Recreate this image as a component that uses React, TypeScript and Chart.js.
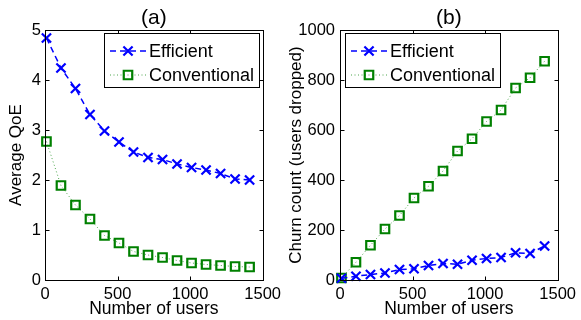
import React, { useEffect, useRef } from 'react';
import { Chart, registerables } from 'chart.js';

Chart.register(...registerables);

// ---- data ----
const users = [10, 110, 210, 310, 410, 510, 610, 710, 810, 910, 1010, 1110, 1210, 1310, 1410];
const qoeEfficient = [4.84, 4.24, 3.83, 3.31, 2.98, 2.76, 2.56, 2.45, 2.41, 2.32, 2.25, 2.20, 2.13, 2.02, 2.00];
const qoeConventional = [2.77, 1.89, 1.50, 1.22, 0.89, 0.74, 0.57, 0.50, 0.45, 0.39, 0.34, 0.31, 0.29, 0.27, 0.26];
const churnEfficient = [7, 15, 22, 28, 42, 45, 58, 66, 63, 79, 86, 90, 109, 106, 136];
const churnConventional = [8, 71, 139, 204, 258, 328, 375, 436, 516, 565, 634, 680, 768, 809, 875];
const xTicks = [0, 500, 1000, 1500];
const qoeTicks = [0, 1, 2, 3, 4, 5];
const churnTicks = [0, 200, 400, 600, 800, 1000];
const seriesNames = ['Efficient', 'Conventional'];

const FONT = "'Liberation Sans', Arial, Helvetica, sans-serif";
const BLUE = '#0000ff';
const GREEN = '#008000';

function drawFrame(chart: any) {
  const { ctx, chartArea: a, scales } = chart;
  ctx.save();
  ctx.globalAlpha = 1;
  ctx.setLineDash([]);
  ctx.strokeStyle = '#000000';
  ctx.lineWidth = 1;
  const L = Math.round(a.left) + 0.5, R = Math.round(a.right) + 0.5;
  const T = Math.round(a.top) + 0.5, B = Math.round(a.bottom) + 0.5;
  ctx.strokeRect(L, T, R - L, B - T);
  const tl = 4;
  ctx.beginPath();
  scales.x.ticks.forEach((t: any) => {
    const px = Math.round(scales.x.getPixelForValue(t.value)) + 0.5;
    ctx.moveTo(px, B); ctx.lineTo(px, B - tl);
    ctx.moveTo(px, T); ctx.lineTo(px, T + tl);
  });
  scales.y.ticks.forEach((t: any) => {
    const py = Math.round(scales.y.getPixelForValue(t.value)) + 0.5;
    ctx.moveTo(L, py); ctx.lineTo(L + tl, py);
    ctx.moveTo(R, py); ctx.lineTo(R - tl, py);
  });
  ctx.stroke();
  ctx.restore();
}

function drawMarker(ctx: CanvasRenderingContext2D, style: string, x: number, y: number, r: number, color: string, lw: number) {
  ctx.save();
  ctx.setLineDash([]);
  ctx.strokeStyle = color;
  ctx.lineWidth = lw;
  const h = r * Math.SQRT1_2;
  ctx.beginPath();
  if (style === 'crossRot') {
    ctx.moveTo(x - h, y - h); ctx.lineTo(x + h, y + h);
    ctx.moveTo(x - h, y + h); ctx.lineTo(x + h, y - h);
  } else {
    ctx.rect(x - h, y - h, 2 * h, 2 * h);
  }
  ctx.stroke();
  ctx.restore();
}

function drawLegend(chart: any, align: string) {
  const { ctx, chartArea: a } = chart;
  const w = 155, h = 54;
  const bx = align === 'right' ? Math.round(a.right - 4 - w) : Math.round(a.left + 5);
  const by = Math.round(a.top + 3);
  ctx.save();
  ctx.fillStyle = '#fff';
  ctx.fillRect(bx, by, w, h);
  ctx.strokeStyle = '#000';
  ctx.lineWidth = 1;
  ctx.setLineDash([]);
  ctx.strokeRect(bx + 0.5, by + 0.5, w, h);
  chart.data.datasets.forEach((ds: any, i: number) => {
    const cy = by + 18 + i * 24;
    ctx.save();
    ctx.strokeStyle = ds.borderColor;
    ctx.lineWidth = ds.borderWidth;
    ctx.setLineDash(ds.borderDash || []);
    ctx.beginPath();
    ctx.moveTo(bx + 6, cy);
    ctx.lineTo(bx + 42, cy);
    ctx.stroke();
    ctx.restore();
    drawMarker(ctx, ds.pointStyle, bx + 24, cy, ds.pointRadius, ds.pointBorderColor, ds.pointBorderWidth);
    ctx.fillStyle = '#000';
    ctx.font = `18px ${FONT}`;
    ctx.textAlign = 'left';
    ctx.textBaseline = 'middle';
    ctx.fillText(ds.label, bx + 45, cy + 1);
  });
  ctx.restore();
}

function drawTitle(chart: any, text: string) {
  const { ctx, chartArea: a } = chart;
  ctx.save();
  ctx.font = `21px ${FONT}`;
  ctx.fillStyle = '#000';
  ctx.textAlign = 'center';
  ctx.textBaseline = 'middle';
  ctx.fillText(text, (a.left + a.right) / 2, 18);
  ctx.restore();
}

function makeDatasets(eff: number[], conv: number[]) {
  return [
    {
      label: seriesNames[0],
      data: users.map((u, i) => ({ x: u, y: eff[i] })),
      borderColor: BLUE,
      borderWidth: 1.5,
      borderDash: [6, 4],
      pointStyle: 'crossRot',
      pointRadius: 6.5,
      pointBorderWidth: 2.2,
      pointBorderColor: BLUE,
      pointBackgroundColor: 'rgba(0,0,0,0)',
      tension: 0,
      clip: false,
    },
    {
      label: seriesNames[1],
      data: users.map((u, i) => ({ x: u, y: conv[i] })),
      borderColor: 'rgba(0,128,0,0.7)',
      borderWidth: 1,
      borderDash: [1, 2.5],
      pointStyle: 'rect',
      pointRadius: 6,
      pointBorderWidth: 2.2,
      pointBorderColor: GREEN,
      pointBackgroundColor: 'rgba(0,0,0,0)',
      tension: 0,
      clip: false,
    },
  ];
}

function makeConfig(opts: {
  eff: number[]; conv: number[]; yTicks: number[]; yTitle: string; title: string;
  yWidth: number; rightPad: number; yTitlePad: number; yTickPad: number; legendAlign: string;
}) {
  const overlay = {
    id: 'overlay',
    afterDatasetsDraw(chart: any) { drawFrame(chart); drawLegend(chart, opts.legendAlign); },
    afterDraw(chart: any) { drawTitle(chart, opts.title); },
  };
  return {
    type: 'line' as const,
    data: { datasets: makeDatasets(opts.eff, opts.conv) },
    plugins: [overlay],
    options: {
      responsive: false,
      animation: false,
      events: [],
      layout: { padding: { left: 0, right: opts.rightPad, top: 30, bottom: 0 } },
      plugins: {
        legend: { display: false },
        tooltip: { enabled: false },
        title: { display: false },
      },
      scales: {
        x: {
          type: 'linear',
          min: xTicks[0],
          max: xTicks[xTicks.length - 1],
          afterBuildTicks: (s: any) => { s.ticks = xTicks.map((v) => ({ value: v })); },
          afterFit: (s: any) => { s.height = 40; },
          grid: { display: false, drawTicks: false },
          border: { display: false },
          ticks: { color: '#000', font: { family: FONT, size: 16.5 }, padding: 5, maxRotation: 0, autoSkip: false, callback: (v: any) => String(v) },
          title: { display: true, text: 'Number of users', color: '#000', font: { family: FONT, size: 17.5 }, padding: { top: 0, bottom: 0 } },
        },
        y: {
          type: 'linear',
          min: opts.yTicks[0],
          max: opts.yTicks[opts.yTicks.length - 1],
          afterBuildTicks: (s: any) => { s.ticks = opts.yTicks.map((v) => ({ value: v })); },
          afterFit: (s: any) => { s.width = opts.yWidth; },
          grid: { display: false, drawTicks: false },
          border: { display: false },
          ticks: { color: '#000', font: { family: FONT, size: 16.5 }, padding: opts.yTickPad, autoSkip: false, callback: (v: any) => String(v) },
          title: { display: true, text: opts.yTitle, color: '#000', font: { family: FONT, size: 17 }, padding: { top: opts.yTitlePad, bottom: 0 } },
        },
      },
    },
  };
}

export default function App() {
  const leftRef = useRef<HTMLCanvasElement>(null);
  const rightRef = useRef<HTMLCanvasElement>(null);

  useEffect(() => {
    const c1 = new Chart(leftRef.current as HTMLCanvasElement, makeConfig({
      eff: qoeEfficient, conv: qoeConventional, yTicks: qoeTicks, yTitle: 'Average QoE', title: '(a)',
      yWidth: 45, rightPad: 286 - 267, yTitlePad: 6, yTickPad: 4, legendAlign: 'right',
    }) as any);
    const c2 = new Chart(rightRef.current as HTMLCanvasElement, makeConfig({
      eff: churnEfficient, conv: churnConventional, yTicks: churnTicks, yTitle: 'Churn count (users dropped)', title: '(b)',
      yWidth: 54, rightPad: 295 - 275, yTitlePad: 0, yTickPad: 5, legendAlign: 'left',
    }) as any);
    return () => { c1.destroy(); c2.destroy(); };
  }, []);

  return (
    <div style={{ position: 'fixed', left: 0, top: 0, width: 581, height: 320, background: '#fff', overflow: 'hidden' }}>
      <canvas ref={leftRef} width={286} height={320} style={{ position: 'absolute', left: 0, top: 0, width: 286, height: 320 }} />
      <canvas ref={rightRef} width={295} height={320} style={{ position: 'absolute', left: 286, top: 0, width: 295, height: 320 }} />
    </div>
  );
}
